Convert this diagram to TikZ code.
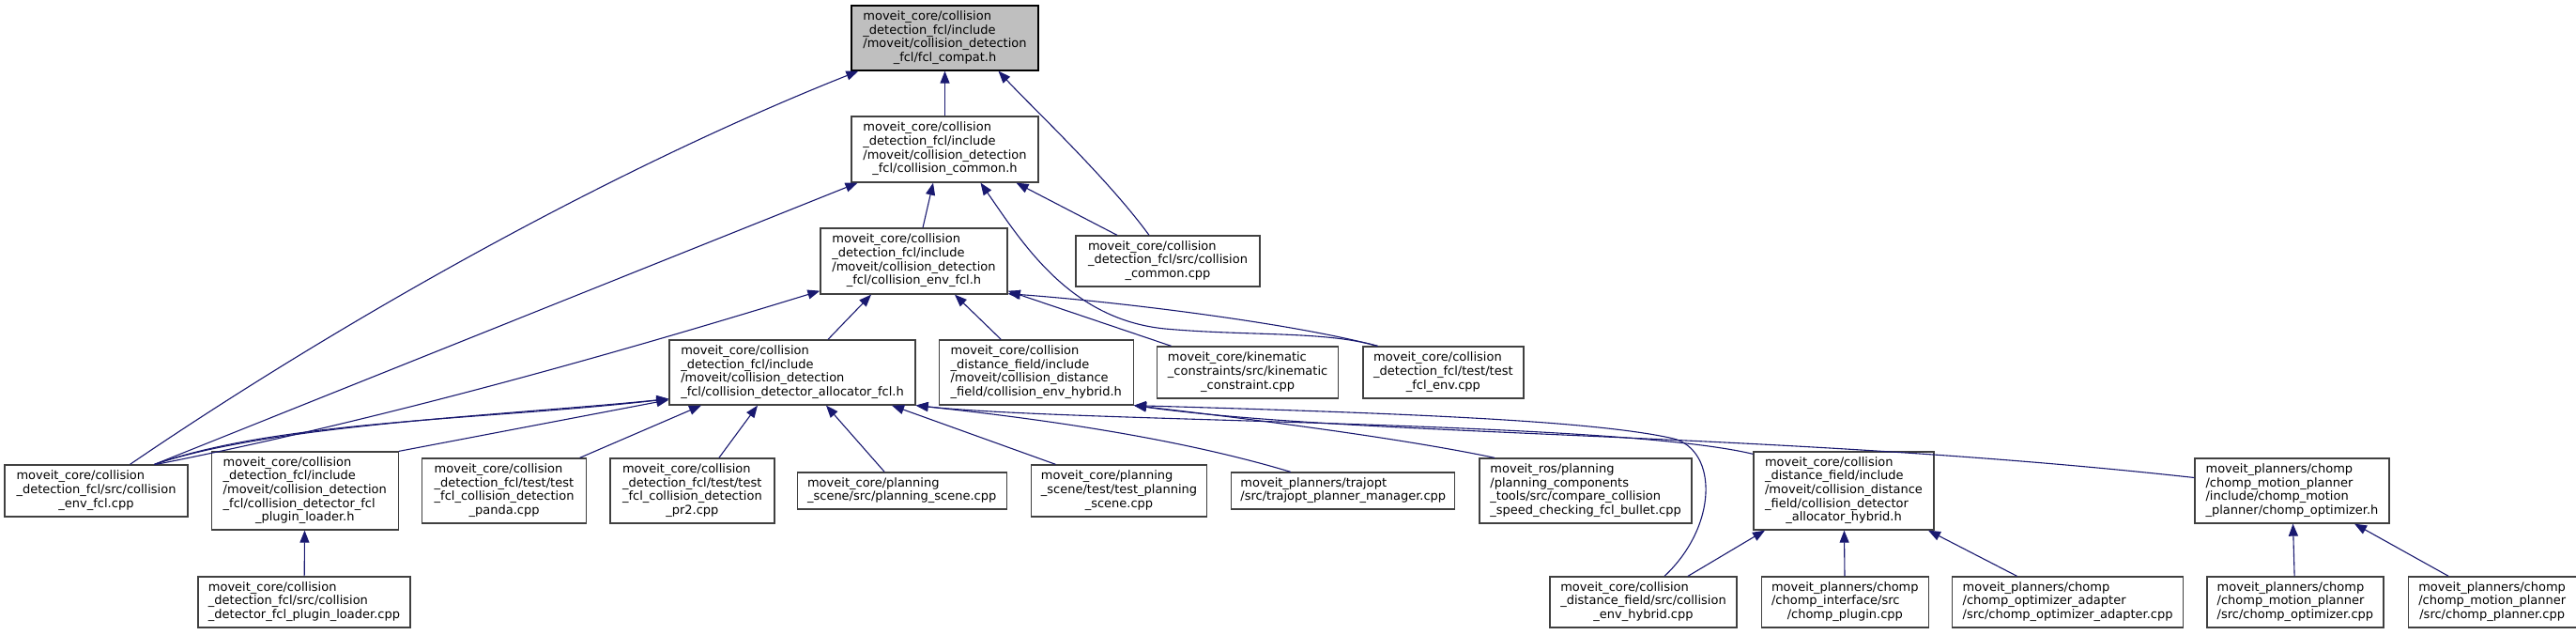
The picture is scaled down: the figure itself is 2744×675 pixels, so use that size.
\documentclass[tikz,border=0pt]{standalone}
\usepackage{fontspec}
\setmainfont{DejaVu Sans}
\usepackage{tikz}
\usetikzlibrary{arrows.meta, positioning}
\definecolor{dxBlue}{HTML}{191970}
\definecolor{dxRoot}{HTML}{BFBFBF}
\definecolor{dxLine}{HTML}{404040}
\newcommand{\dxlbl}[2]{\begin{tabular}{@{}l@{}}#1\\\multicolumn{1}{@{}c@{}}{#2}\end{tabular}}

\begin{document}
\begin{tikzpicture}[x=1pt, y=-1pt,
    incbox/.style={rectangle, draw=dxLine, fill=white, line width=1.3pt,
                   inner xsep=3pt, inner ysep=2pt,
                   font=\fontsize{13}{14.7}\selectfont},
    incarrow/.style={-{Triangle[length=13pt, width=10pt]}, line width=1.1pt, dxBlue},
  ]
    \fill[white] (0,0) rectangle (2744,675);
    \useasboundingbox (0,0) rectangle (2744,675);

    % headers
    \node[incbox, fill=dxRoot, draw=black, minimum width=199pt, minimum height=69pt] (fclcompat) at (1006.5,40.5)
      {\dxlbl{moveit\_core/collision\\\_detection\_fcl/include\\/moveit/collision\_detection}{\_fcl/fcl\_compat.h}};
    \node[incbox, minimum width=199pt, minimum height=70pt] (commonh) at (1006.5,159)
      {\dxlbl{moveit\_core/collision\\\_detection\_fcl/include\\/moveit/collision\_detection}{\_fcl/collision\_common.h}};
    \node[incbox, minimum width=199pt, minimum height=70pt] (envfclh) at (973.5,278)
      {\dxlbl{moveit\_core/collision\\\_detection\_fcl/include\\/moveit/collision\_detection}{\_fcl/collision\_env\_fcl.h}};
    \node[incbox, minimum width=196pt, minimum height=54pt] (commoncpp) at (1244,278)
      {\dxlbl{moveit\_core/collision\\\_detection\_fcl/src/collision}{\_common.cpp}};

    \node[incbox, minimum width=262pt, minimum height=69pt] (allocfclh) at (844,396.5)
      {\dxlbl{moveit\_core/collision\\\_detection\_fcl/include\\/moveit/collision\_detection}{\_fcl/collision\_detector\_allocator\_fcl.h}};
    \node[incbox, minimum width=207pt, minimum height=69pt, right=24pt of allocfclh] (envhybridh)
      {\dxlbl{moveit\_core/collision\\\_distance\_field/include\\/moveit/collision\_distance}{\_field/collision\_env\_hybrid.h}};
    \node[incbox, minimum width=193pt, minimum height=55pt, right=24pt of envhybridh] (kinconstr)
      {\dxlbl{moveit\_core/kinematic\\\_constraints/src/kinematic}{\_constraint.cpp}};
    \node[incbox, minimum width=171pt, minimum height=55pt, right=25pt of kinconstr] (testfclenv)
      {\dxlbl{moveit\_core/collision\\\_detection\_fcl/test/test}{\_fcl\_env.cpp}};

    % third rank
    \node[incbox, minimum width=195pt, minimum height=55pt] (envfclcpp) at (102.5,522.5)
      {\dxlbl{moveit\_core/collision\\\_detection\_fcl/src/collision}{\_env\_fcl.cpp}};
    \node[incbox, minimum width=199pt, minimum height=83pt, right=24pt of envfclcpp] (pluginh)
      {\dxlbl{moveit\_core/collision\\\_detection\_fcl/include\\/moveit/collision\_detection\\\_fcl/collision\_detector\_fcl}{\_plugin\_loader.h}};
    \node[incbox, minimum width=175pt, minimum height=69pt, right=24pt of pluginh] (testpanda)
      {\dxlbl{moveit\_core/collision\\\_detection\_fcl/test/test\\\_fcl\_collision\_detection}{\_panda.cpp}};
    \node[incbox, minimum width=175pt, minimum height=69pt, right=24pt of testpanda] (testpr2)
      {\dxlbl{moveit\_core/collision\\\_detection\_fcl/test/test\\\_fcl\_collision\_detection}{\_pr2.cpp}};
    \node[incbox, minimum width=223pt, minimum height=39pt, right=23pt of testpr2] (planscene)
      {\dxlbl{moveit\_core/planning}{\_scene/src/planning\_scene.cpp}};
    \node[incbox, minimum width=187pt, minimum height=55pt, right=25pt of planscene] (testplanscene)
      {\dxlbl{moveit\_core/planning\\\_scene/test/test\_planning}{\_scene.cpp}};
    \node[incbox, minimum width=238pt, minimum height=39pt, right=25pt of testplanscene] (trajopt)
      {\dxlbl{moveit\_planners/trajopt}{/src/trajopt\_planner\_manager.cpp}};
    \node[incbox, minimum width=226pt, minimum height=69pt, right=25pt of trajopt] (comparecc)
      {\dxlbl{moveit\_ros/planning\\/planning\_components\\\_tools/src/compare\_collision}{\_speed\_checking\_fcl\_bullet.cpp}};
    \node[incbox, minimum width=192pt, minimum height=83pt] (allochybridh) at (1964,522.5)
      {\dxlbl{moveit\_core/collision\\\_distance\_field/include\\/moveit/collision\_distance\\\_field/collision\_detector}{\_allocator\_hybrid.h}};
    \node[incbox, minimum width=207pt, minimum height=69pt] (chompopth) at (2441.5,522.5)
      {\dxlbl{moveit\_planners/chomp\\/chomp\_motion\_planner\\/include/chomp\_motion}{\_planner/chomp\_optimizer.h}};

    % bottom rank
    \node[incbox, minimum width=226pt, minimum height=54pt] (plugincpp) at (324,641)
      {\dxlbl{moveit\_core/collision\\\_detection\_fcl/src/collision}{\_detector\_fcl\_plugin\_loader.cpp}};
    \node[incbox, minimum width=199pt, minimum height=54pt] (envhybridcpp) at (1750.5,641)
      {\dxlbl{moveit\_core/collision\\\_distance\_field/src/collision}{\_env\_hybrid.cpp}};
    \node[incbox, minimum width=178pt, minimum height=54pt, right=25pt of envhybridcpp] (chompplugin)
      {\dxlbl{moveit\_planners/chomp\\/chomp\_interface/src}{/chomp\_plugin.cpp}};
    \node[incbox, minimum width=246pt, minimum height=54pt, right=24pt of chompplugin] (chompadapter)
      {\dxlbl{moveit\_planners/chomp\\/chomp\_optimizer\_adapter}{/src/chomp\_optimizer\_adapter.cpp}};
    \node[incbox, minimum width=188pt, minimum height=54pt, right=24pt of chompadapter] (chompoptcpp)
      {\dxlbl{moveit\_planners/chomp\\/chomp\_motion\_planner}{/src/chomp\_optimizer.cpp}};
    \node[incbox, minimum width=179pt, minimum height=54pt, right=25pt of chompoptcpp] (chompplanner)
      {\dxlbl{moveit\_planners/chomp\\/chomp\_motion\_planner}{/src/chomp\_planner.cpp}};

    % fcl_compat.h
    \draw[incarrow] (commonh) -- (fclcompat);
    \draw[incarrow] ([xshift=36pt]envfclcpp.north) .. controls (343,355) and (634,187) .. ([xshift=8pt]fclcompat.south west);
    \draw[incarrow] ([xshift=-20pt]commoncpp.north) .. controls (1180,190) and (1100,115) .. ([xshift=57pt]fclcompat.south);

    % collision_common.h
    \draw[incarrow] ([xshift=9.5pt]envfclh.north) -- ([xshift=-12.5pt]commonh.south);
    \draw[incarrow] ([xshift=62pt]envfclcpp.north) -- ([xshift=-93pt]commonh.south);
    \draw[incarrow] ([xshift=-54pt]commoncpp.north) -- ([xshift=76pt]commonh.south);
    \draw[incarrow] ([xshift=-70pt]testfclenv.north) .. controls (1410,352) and (1330,358) .. (1241,350)
      .. controls (1140,340) and (1090,260) .. ([xshift=38pt]commonh.south);

    % collision_env_fcl.h
    \draw[incarrow] ([xshift=64pt]envfclcpp.north) .. controls (416,445) and (670,372) .. ([yshift=4pt]envfclh.south west);
    \draw[incarrow] ([xshift=38pt]allocfclh.north) -- ([xshift=-45.5pt]envfclh.south);
    \draw[incarrow] ([xshift=-37.5pt]envhybridh.north) -- ([xshift=43.5pt]envfclh.south);
    \draw[incarrow] ([xshift=-81.5pt]kinconstr.north) -- ([yshift=4pt]envfclh.south east);
    \draw[incarrow] ([xshift=-70pt]testfclenv.north) .. controls (1380,345) and (1200,322) .. ([yshift=1pt]envfclh.south east);

    % collision_detector_allocator_fcl.h
    \draw[incarrow] ([xshift=62pt]envfclcpp.north) .. controls (290,452) and (540,442) .. ([yshift=7pt]allocfclh.south west);
    \draw[incarrow] ([xshift=62pt]envfclcpp.north) .. controls (300,447) and (520,447) .. ([yshift=7pt]allocfclh.south west);
    \draw[incarrow] (pluginh.north east) -- ([yshift=6pt]allocfclh.south west);
    \draw[incarrow] ([xshift=80.5pt]testpanda.north) -- ([xshift=-97pt]allocfclh.south);
    \draw[incarrow] ([xshift=28.5pt]testpr2.north) -- ([xshift=-37pt]allocfclh.south);
    \draw[incarrow] ([xshift=-18.5pt]planscene.north) -- ([xshift=36pt]allocfclh.south);
    \draw[incarrow] ([xshift=-67.5pt]testplanscene.north) -- ([xshift=106pt]allocfclh.south);
    \draw[incarrow] ([xshift=-56pt]trajopt.north) .. controls (1250,465) and (1100,445) .. (allocfclh.south east);
    \draw[incarrow] ([yshift=-3pt]allochybridh.north west) .. controls (1720,448) and (1150,450) .. (allocfclh.south east);

    % collision_env_hybrid.h
    \draw[incarrow] ([xshift=22.5pt]envhybridcpp.north) .. controls (1830,560) and (1830,480) .. (1783,467)
      .. controls (1700,448) and (1500,440) .. (envhybridh.south east);
    \draw[incarrow] ([xshift=-97pt]comparecc.north) .. controls (1500,468) and (1350,448) .. (envhybridh.south east);
    \draw[incarrow] ([yshift=14pt]chompopth.west) .. controls (1900,460) and (1450,465) .. (envhybridh.south east);

    % collision_detector_allocator_hybrid.h
    \draw[incarrow] ([xshift=47.5pt]envhybridcpp.north) -- ([xshift=-84pt]allochybridh.south);
    \draw[incarrow] (chompplugin) -- (allochybridh);
    \draw[incarrow] ([xshift=-54pt]chompadapter.north) -- ([xshift=90pt]allochybridh.south);

    % chomp_optimizer.h
    \draw[incarrow] (chompoptcpp) -- (chompopth);
    \draw[incarrow] ([xshift=-46.5pt]chompplanner.north) -- ([xshift=66.5pt]chompopth.south);

    % collision_detector_fcl_plugin_loader.h
    \draw[incarrow] (plugincpp) -- (pluginh);
  \end{tikzpicture}
\end{document}
